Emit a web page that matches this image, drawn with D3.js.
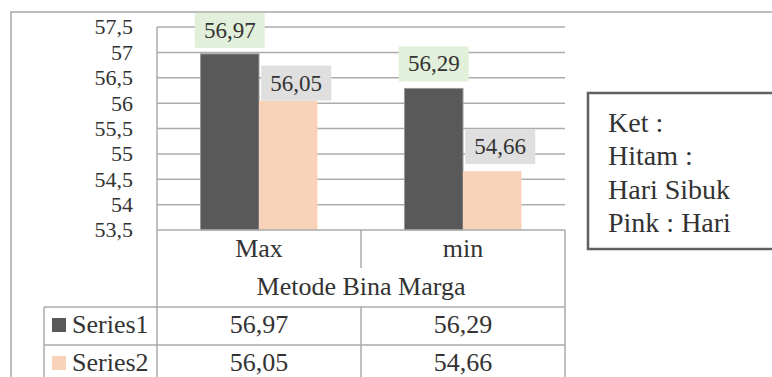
<!DOCTYPE html>
<html>
<head>
<meta charset="utf-8">
<script src="https://cdn.jsdelivr.net/npm/d3@7"></script>
</head>
<body style="margin:0; background:#fff">
<svg id="drawing_region" style="display:block"></svg>
<script>
// chart data
const categories = ["Max", "min"];
const groupTitle = "Metode Bina Marga";
const seriesNames = ["Series1", "Series2"];
const series1 = [56.97, 56.29];
const series2 = [56.05, 54.66];
const yTicks = [53.5, 54, 54.5, 55, 55.5, 56, 56.5, 57, 57.5];
const noteLines = ["Ket :", "Hitam :", "Hari Sibuk", "Pink : Hari"];

const seriesValues = [series1, series2];
const colors = ["#5a5959", "#f8d3b9"];
const labelFill = ["#e2efda", "#dfdfdf"];
const fmt = v => String(v).replace(".", ",");

const config = {
  width: 772, height: 377,
  plot: {left: 157, right: 565, top: 27, bottom: 230},
  rowH: [38, 39, 38, 38],
  legendLeft: 44
};

const svg = d3.select("#drawing_region")
  .attr("width", config.width)
  .attr("height", config.height);

const p = config.plot;
const grid = "#ababab";
const ink = "#333";

// outer chart frame
svg.append("rect")
  .attr("x", 11).attr("y", 12)
  .attr("width", 820).attr("height", 420)
  .attr("fill", "none").attr("stroke", "#a6a6a6").attr("stroke-width", 1.5);

const x0 = d3.scaleBand().domain(categories).range([p.left, p.right]);
const x1 = d3.scaleBand().domain(seriesNames).range([0, x0.bandwidth()]).paddingOuter(0.744);
const y = d3.scaleLinear().domain([53.5, 57.5]).range([p.bottom, p.top]);

// gridlines
svg.append("g").selectAll("line")
  .data(yTicks.slice(1))
  .join("line")
  .attr("x1", p.left).attr("x2", p.right)
  .attr("y1", d => y(d)).attr("y2", d => y(d))
  .attr("stroke", grid).attr("stroke-width", 1.5);

// y tick labels
svg.append("g").selectAll("text")
  .data(yTicks)
  .join("text")
  .attr("x", 133).attr("y", d => y(d))
  .attr("dy", "0.34em")
  .attr("text-anchor", "end")
  .attr("font-size", 22)
  .text(d => fmt(d));

// bars
const groups = svg.append("g").selectAll("g")
  .data(categories)
  .join("g")
  .attr("transform", d => `translate(${x0(d)},0)`);

groups.selectAll("rect")
  .data((c, i) => seriesNames.map((s, j) => ({s, j, v: seriesValues[j][i]})))
  .join("rect")
  .attr("x", d => x1(d.s))
  .attr("y", d => y(d.v))
  .attr("width", x1.bandwidth())
  .attr("height", d => y(53.5) - y(d.v))
  .attr("fill", d => colors[d.j])
  .attr("stroke", d => d.j === 0 ? "#9a9a9a" : "none")
  .attr("stroke-width", 1);

// data labels (label lift per point, as in the source chart)
const labelLift = [[6, 7], [0, 7]];
const labelDx = [0, 8];
const lbl = groups.selectAll("g.lbl")
  .data((c, i) => seriesNames.map((s, j) => ({s, j, i, v: seriesValues[j][i]})))
  .join("g")
  .attr("class", "lbl")
  .attr("transform", d => {
    const cx = x1(d.s) + x1.bandwidth() / 2 + labelDx[d.j];
    const by = y(d.v) - labelLift[d.j][d.i];
    return `translate(${cx},${by})`;
  });
lbl.append("rect")
  .attr("x", -35).attr("y", -35).attr("width", 70).attr("height", 35)
  .attr("fill", d => labelFill[d.j]);
lbl.append("text")
  .attr("y", -10).attr("text-anchor", "middle")
  .attr("font-size", 23)
  .text(d => fmt(d.v));

// y axis line
svg.append("line")
  .attr("x1", p.left).attr("x2", p.left)
  .attr("y1", p.top).attr("y2", p.bottom)
  .attr("stroke", grid).attr("stroke-width", 1.5);

// data table
const rows = [];
let yy = p.bottom;
config.rowH.forEach(h => { rows.push([yy, yy + h]); yy += h; });
const tbl = svg.append("g")
  .attr("stroke", grid).attr("stroke-width", 1.5);

// horizontal lines
tbl.append("line").attr("x1", p.left).attr("x2", p.right).attr("y1", rows[0][0]).attr("y2", rows[0][0]);
tbl.append("line").attr("x1", config.legendLeft).attr("x2", p.right).attr("y1", rows[2][0]).attr("y2", rows[2][0]);
tbl.append("line").attr("x1", config.legendLeft).attr("x2", p.right).attr("y1", rows[3][0]).attr("y2", rows[3][0]);
tbl.append("line").attr("x1", config.legendLeft).attr("x2", p.right).attr("y1", rows[3][1]).attr("y2", rows[3][1]);
// vertical lines
tbl.append("line").attr("x1", p.left).attr("x2", p.left).attr("y1", rows[0][0]).attr("y2", rows[3][1]);
tbl.append("line").attr("x1", p.right).attr("x2", p.right).attr("y1", rows[0][0]).attr("y2", rows[3][1]);
tbl.append("line").attr("x1", config.legendLeft).attr("x2", config.legendLeft).attr("y1", rows[2][0]).attr("y2", rows[3][1]);
tbl.append("line").attr("x1", x0("min")).attr("x2", x0("min")).attr("y1", rows[0][0]).attr("y2", rows[1][0]);
tbl.append("line").attr("x1", x0("min")).attr("x2", x0("min")).attr("y1", rows[2][0]).attr("y2", rows[3][1]);

const tfs = 26;
svg.append("g").selectAll("text")
  .data(categories)
  .join("text")
  .attr("x", d => x0(d) + x0.bandwidth() / 2)
  .attr("y", rows[0][0] + 27)
  .attr("text-anchor", "middle")
  .attr("font-size", tfs)
  .text(d => d);

svg.append("text")
  .attr("x", (p.left + p.right) / 2).attr("y", rows[1][0] + 27)
  .attr("text-anchor", "middle")
  .attr("font-size", tfs)
  .text(groupTitle);

seriesNames.forEach((s, j) => {
  const r = rows[2 + j];
  svg.append("rect")
    .attr("x", 52).attr("y", r[0] + 11)
    .attr("width", 14).attr("height", 14)
    .attr("fill", colors[j]);
  svg.append("text")
    .attr("x", 72).attr("y", r[0] + 26)
    .attr("font-size", tfs)
    .text(s);
  svg.append("g").selectAll("text")
    .data(categories)
    .join("text")
    .attr("x", d => x0(d) + x0.bandwidth() / 2)
    .attr("y", r[0] + 26)
    .attr("text-anchor", "middle")
    .attr("font-size", tfs)
    .text((d, i) => fmt(seriesValues[j][i]));
});

// note box
svg.append("rect")
  .attr("x", 588).attr("y", 93)
  .attr("width", 220).attr("height", 156)
  .attr("fill", "#fff").attr("stroke", "#616161").attr("stroke-width", 2.5);
svg.append("g").selectAll("text")
  .data(noteLines)
  .join("text")
  .attr("x", 608).attr("y", (d, i) => 132 + i * 33.4)
  .attr("font-size", 28)
  .text(d => d);

// serif face and ink for every text
svg.selectAll("text")
  .style("font-family", d => '"Liberation Serif"')
  .attr("fill", ink);
</script>
</body>
</html>
